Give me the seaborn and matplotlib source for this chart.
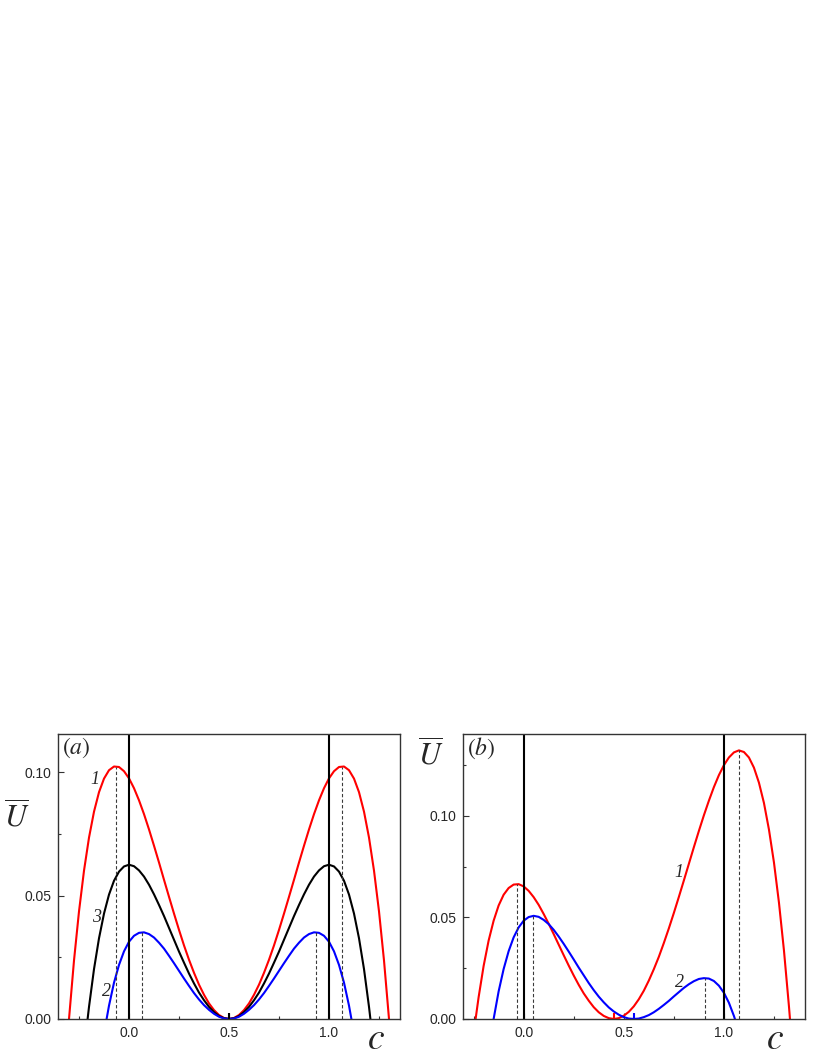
import numpy as np
import matplotlib
matplotlib.use("Agg")
import matplotlib.pyplot as plt
import seaborn as sns
from matplotlib.ticker import MultipleLocator, FormatStrFormatter

# ---- panel (a): curves 1 (red), 3 (black), 2 (blue) ----
c_a1 = np.linspace(-0.30, 1.30, 65)
u_a1 = [0.0, 0.0237, 0.0436, 0.0601, 0.0735, 0.0840, 0.0919, 0.0974, 0.1008, 0.1023, 0.1021, 0.1004,
        0.0975, 0.0935, 0.0886, 0.0830, 0.0768, 0.0702, 0.0634, 0.0564, 0.0495, 0.0427, 0.0361, 0.0298,
        0.0240, 0.0187, 0.0139, 0.0098, 0.0063, 0.0036, 0.0016, 0.0004, 0.0,
        0.0004, 0.0016, 0.0036, 0.0063, 0.0098, 0.0139, 0.0187, 0.0240, 0.0298, 0.0361, 0.0427, 0.0495,
        0.0564, 0.0634, 0.0702, 0.0768, 0.0830, 0.0886, 0.0935, 0.0975, 0.1004, 0.1021, 0.1023, 0.1008,
        0.0974, 0.0919, 0.0840, 0.0735, 0.0601, 0.0436, 0.0237, 0.0]

c_a3 = [-0.207] + list(np.linspace(-0.20, 1.20, 57)) + [1.207]
u_a3 = [0.0, 0.0049, 0.0202, 0.0327, 0.0427, 0.0504, 0.0560, 0.0597, 0.0618, 0.0625, 0.0619, 0.0602,
        0.0577, 0.0544, 0.0505, 0.0462, 0.0417, 0.0369, 0.0321, 0.0273, 0.0228, 0.0184, 0.0144, 0.0107,
        0.0076, 0.0049, 0.0028, 0.0012, 0.0003, 0.0,
        0.0003, 0.0012, 0.0028, 0.0049, 0.0076, 0.0107, 0.0144, 0.0184, 0.0228, 0.0273, 0.0321, 0.0369,
        0.0417, 0.0462, 0.0505, 0.0544, 0.0577, 0.0602, 0.0619, 0.0625, 0.0618, 0.0597, 0.0560, 0.0504,
        0.0427, 0.0327, 0.0202, 0.0049, 0.0]

c_a2 = [-0.112] + list(np.linspace(-0.10, 1.10, 49)) + [1.112]
u_a2 = [0.0, 0.0054, 0.0147, 0.0219, 0.0274, 0.0313, 0.0337, 0.0349, 0.0351, 0.0344, 0.0330, 0.0309,
        0.0285, 0.0256, 0.0226, 0.0195, 0.0164, 0.0134, 0.0105, 0.0079, 0.0056, 0.0037, 0.0021, 0.0009,
        0.0002, 0.0,
        0.0002, 0.0009, 0.0021, 0.0037, 0.0056, 0.0079, 0.0105, 0.0134, 0.0164, 0.0195, 0.0226, 0.0256,
        0.0285, 0.0309, 0.0330, 0.0344, 0.0351, 0.0349, 0.0337, 0.0313, 0.0274, 0.0219, 0.0147, 0.0054, 0.0]

# dashed drop lines at the maxima
dash_a_c = [-0.067, 0.067, 0.933, 1.067]
dash_a_u = [0.1023, 0.0351, 0.0351, 0.1023]

# ---- panel (b): curves 1 (red), 2 (blue) ----
c_b1 = [-0.24] + list(np.linspace(-0.225, 1.325, 63)) + [1.33]
u_b1 = [0.0, 0.0107, 0.0261, 0.0386, 0.0484, 0.0559, 0.0612, 0.0645, 0.0662, 0.0664, 0.0653, 0.0631,
        0.0600, 0.0562, 0.0517, 0.0469, 0.0418, 0.0366, 0.0314, 0.0263, 0.0214, 0.0168, 0.0126, 0.0090,
        0.0058, 0.0033, 0.0015, 0.0004, 0.0, 0.0004, 0.0016, 0.0035, 0.0062, 0.0097, 0.0139, 0.0189,
        0.0245, 0.0306, 0.0374, 0.0446, 0.0522, 0.0601, 0.0682, 0.0764, 0.0846, 0.0926, 0.1003, 0.1075,
        0.1142, 0.1201, 0.1250, 0.1288, 0.1313, 0.1323, 0.1315, 0.1288, 0.1238, 0.1164, 0.1064, 0.0933,
        0.0771, 0.0573, 0.0337, 0.0061, 0.0]

c_b2 = [-0.15] + list(np.linspace(-0.125, 1.05, 48)) + [1.055]
u_b2 = [0.0, 0.0136, 0.0246, 0.0334, 0.0402, 0.0451, 0.0484, 0.0502, 0.0508, 0.0503, 0.0488, 0.0467,
        0.0439, 0.0406, 0.0370, 0.0332, 0.0293, 0.0253, 0.0215, 0.0177, 0.0142, 0.0110, 0.0082, 0.0057,
        0.0037, 0.0021, 0.0009, 0.0002, 0.0, 0.0002, 0.0009, 0.0019, 0.0033, 0.0050, 0.0069, 0.0089,
        0.0111, 0.0132, 0.0153, 0.0171, 0.0186, 0.0197, 0.0201, 0.0199, 0.0187, 0.0164, 0.0129, 0.0080,
        0.0015, 0.0]

dash_b_c = [-0.035, 0.048, 0.905, 1.077]
dash_b_u = [0.0665, 0.0508, 0.0201, 0.1323]

sns.set_style("ticks")
plt.rcParams['font.family'] = ['Liberation Sans', 'DejaVu Sans']
plt.rcParams['mathtext.fontset'] = 'stix'

fig = plt.figure(figsize=(8.17, 10.58), dpi=100)
ax_a = fig.add_axes([0.0710, 0.0369, 0.4186, 0.2694])
ax_b = fig.add_axes([0.5667, 0.0369, 0.4186, 0.2694])

RED, BLUE, BLACK = '#ff0000', '#0000ff', '#000000'
DASH = '#3a3a3a'
lab_font = dict(family='Liberation Serif', style='italic', fontsize=13, ha='center', va='center')

# panel (a)
for c, u, col in [(c_a1, u_a1, RED), (c_a3, u_a3, BLACK), (c_a2, u_a2, BLUE)]:
    sns.lineplot(x=c, y=u, color=col, lw=1.5, ax=ax_a, sort=False)
ax_a.vlines(dash_a_c, 0, dash_a_u, colors=DASH, linestyles=(0, (3, 2)), lw=0.8)
ax_a.axvline(0.0, color='k', lw=1.5)
ax_a.axvline(1.0, color='k', lw=1.5)
ax_a.vlines([0.5], 0, 0.0025, colors='k', lw=1.5)
ax_a.set_xlim(-0.355, 1.355)
ax_a.set_ylim(0, 0.1155)
ax_a.text(0.012, 0.95, r'$(a)$', transform=ax_a.transAxes, fontsize=17, va='center', ha='left')
for s, x, y in [('1', -0.17, 0.097), ('3', -0.16, 0.041), ('2', -0.115, 0.011)]:
    ax_a.text(x, y, s, **lab_font)

# panel (b)
for c, u, col in [(c_b1, u_b1, RED), (c_b2, u_b2, BLUE)]:
    sns.lineplot(x=c, y=u, color=col, lw=1.5, ax=ax_b, sort=False)
ax_b.vlines(dash_b_c, 0, dash_b_u, colors=DASH, linestyles=(0, (3, 2)), lw=0.8)
ax_b.axvline(0.0, color='k', lw=1.5)
ax_b.axvline(1.0, color='k', lw=1.5)
ax_b.vlines([0.45], 0, 0.003, colors=RED, lw=1.5)
ax_b.vlines([0.55], 0, 0.003, colors=BLUE, lw=1.5)
ax_b.set_xlim(-0.303, 1.405)
ax_b.set_ylim(0, 0.1404)
ax_b.text(0.012, 0.95, r'$(b)$', transform=ax_b.transAxes, fontsize=17, va='center', ha='left')
for s, x, y in [('1', 0.774, 0.072), ('2', 0.78, 0.0182)]:
    ax_b.text(x, y, s, **lab_font)

for ax in (ax_a, ax_b):
    ax.xaxis.set_major_locator(MultipleLocator(0.5))
    ax.xaxis.set_minor_locator(MultipleLocator(0.25))
    ax.yaxis.set_major_locator(MultipleLocator(0.05))
    ax.yaxis.set_minor_locator(MultipleLocator(0.025))
    ax.xaxis.set_major_formatter(FormatStrFormatter('%.1f'))
    ax.yaxis.set_major_formatter(FormatStrFormatter('%.2f'))
    ax.tick_params(which='both', direction='in', top=False, right=False, labelsize=10,
                   color='#333333', width=0.8)
    ax.tick_params(which='major', length=4, pad=5)
    ax.tick_params(which='minor', length=2.5)
    for sp in ax.spines.values():
        sp.set_visible(True)
        sp.set_color('#333333')
        sp.set_linewidth(1.0)
    ax.set_xlabel('')
    ax.set_ylabel('')

# axis symbols
fig.text(17 / 817, 1 - 818 / 1058, r'$\overline{U}$', fontsize=22, ha='center', va='center')
fig.text(431 / 817, 1 - 756 / 1058, r'$\overline{U}$', fontsize=22, ha='center', va='center')
fig.text(376 / 817, 1 - 1049 / 1058, r'$c$', fontsize=27, ha='center', va='baseline')
fig.text(775 / 817, 1 - 1049 / 1058, r'$c$', fontsize=27, ha='center', va='baseline')

fig.savefig('out.png', dpi=100)
